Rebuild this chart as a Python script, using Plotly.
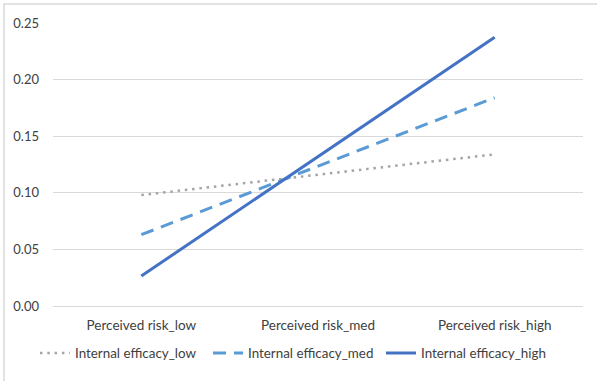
import plotly.graph_objects as go

categories = ["Perceived risk_low", "Perceived risk_med", "Perceived risk_high"]
ie_low = [0.098, 0.116, 0.134]
ie_med = [0.063, 0.1235, 0.184]
ie_high = [0.0265, 0.132, 0.2375]
series_names = ["Internal efficacy_low", "Internal efficacy_med", "Internal efficacy_high"]

FONT = "Lato"
TXT = "#404040"

fig = go.Figure()
fig.add_trace(go.Scatter(x=categories, y=ie_low, name=series_names[0], mode="lines",
                         line=dict(color="#A5A5A5", width=2.5, dash="2.5px,4.8px")))
fig.add_trace(go.Scatter(x=categories, y=ie_med, name=series_names[1], mode="lines",
                         line=dict(color="#5B9BD5", width=3, dash="13px,8px")))
fig.add_trace(go.Scatter(x=categories, y=ie_high, name=series_names[2], mode="lines",
                         line=dict(color="#4472C4", width=3)))

fig.update_layout(
    width=597, height=381,
    margin=dict(l=53, r=14, t=23, b=75, autoexpand=False),
    paper_bgcolor="white", plot_bgcolor="white",
    font=dict(family=FONT, size=13, color=TXT),
    showlegend=True,
    legend=dict(orientation="h", xref="container", yref="container",
                x=35/597, xanchor="left", y=0.073, yanchor="middle",
                font=dict(family=FONT, size=13.4, color=TXT),
                entrywidthmode="pixels", entrywidth=128,
                itemwidth=30, traceorder="normal"),
    xaxis=dict(type="category", range=[-0.5, 2.5], showgrid=False, zeroline=False,
               showline=False, ticks="", ticklabelstandoff=9,
               tickfont=dict(family=FONT, size=13.5, color=TXT)),
    yaxis=dict(range=[0, 0.25], dtick=0.05, tickformat=".2f", showgrid=True,
               gridcolor="#D9D9D9", gridwidth=1, zeroline=True, zerolinecolor="#D9D9D9",
               zerolinewidth=1, showline=False, ticks="", ticklabelstandoff=13,
               tickfont=dict(family=FONT, size=13, color=TXT)),
)
# outer chart border (visible on left and top)
fig.add_shape(type="rect", xref="paper", yref="paper",
              x0=-49/530, x1=1.2, y0=-1, y1=1 + 19/283,
              line=dict(color="#D9D9D9", width=1.5), layer="below")
fig.write_html("out.html")
